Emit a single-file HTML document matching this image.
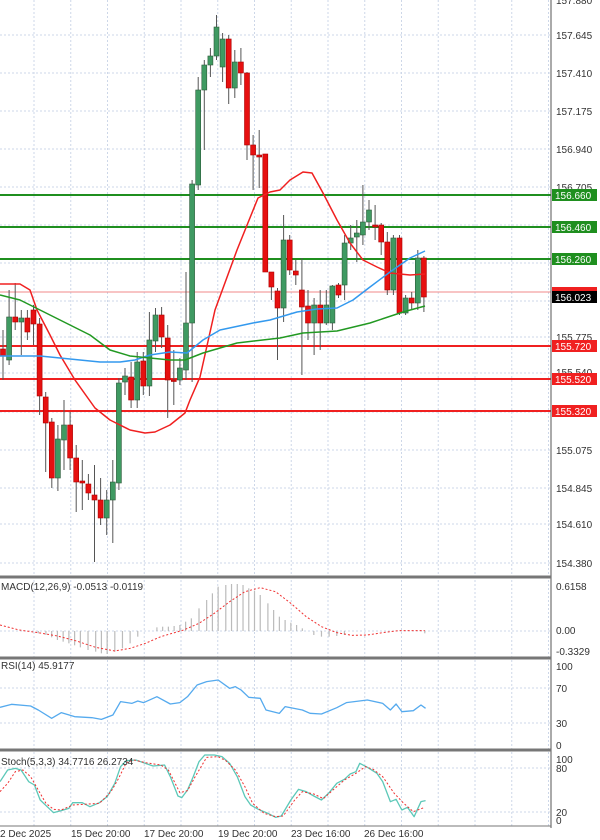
<!DOCTYPE html>
<html><head><meta charset="utf-8"><style>
html,body{margin:0;padding:0;background:#fff;}
svg{display:block;font-family:"Liberation Sans",sans-serif;}
</style></head><body>
<svg id="c" width="600" height="840" viewBox="0 0 600 840" xmlns="http://www.w3.org/2000/svg">
<g id="grid"></g>
<g id="hlines">
<line x1="0" x2="551" y1="292" y2="292" stroke="#f08a8a" stroke-width="1"/>
<line x1="0" x2="551" y1="195" y2="195" stroke="#1f8f1f" stroke-width="2"/>
<line x1="0" x2="551" y1="227" y2="227" stroke="#1f8f1f" stroke-width="2"/>
<line x1="0" x2="551" y1="259" y2="259" stroke="#1f8f1f" stroke-width="2"/>
<line x1="0" x2="551" y1="346" y2="346" stroke="#f02020" stroke-width="2"/>
<line x1="0" x2="551" y1="379" y2="379" stroke="#f02020" stroke-width="2"/>
<line x1="0" x2="551" y1="411" y2="411" stroke="#f02020" stroke-width="2"/>
</g>
<g id="candles"></g>
<g id="mas"></g>
<g id="ind"></g>
<!-- frame -->
<line x1="551" x2="551" y1="0" y2="828" stroke="#555" stroke-width="1"/>
<line x1="0" x2="551" y1="577" y2="577" stroke="#777" stroke-width="3"/>
<line x1="0" x2="551" y1="658" y2="658" stroke="#777" stroke-width="3"/>
<line x1="0" x2="551" y1="750" y2="750" stroke="#777" stroke-width="3"/>
<line x1="0" x2="551" y1="826" y2="826" stroke="#777" stroke-width="1"/>
<!-- price axis labels -->
<g font-size="10" fill="#333">
<text x="556" y="4">157.880</text>
<text x="556" y="39">157.645</text>
<text x="556" y="77">157.410</text>
<text x="556" y="115">157.175</text>
<text x="556" y="153">156.940</text>
<text x="556" y="191">156.705</text>
<text x="556" y="341">155.775</text>
<text x="556" y="376">155.540</text>
<text x="556" y="454">155.075</text>
<text x="556" y="492">154.845</text>
<text x="556" y="528">154.610</text>
<text x="556" y="567">154.380</text>
</g>
<g font-size="10">
<rect x="552" y="189" width="45" height="12" fill="#1f8f1f"/><text x="555" y="199" fill="#fff">156.660</text>
<rect x="552" y="221" width="45" height="12" fill="#1f8f1f"/><text x="555" y="231" fill="#fff">156.460</text>
<rect x="552" y="253" width="45" height="12" fill="#1f8f1f"/><text x="555" y="263" fill="#fff">156.260</text>
<rect x="552" y="287" width="45" height="8" fill="#f02020"/>
<rect x="552" y="291" width="45" height="12" fill="#000"/><text x="555" y="301" fill="#fff">156.023</text>
<rect x="552" y="340" width="45" height="12" fill="#f02020"/><text x="555" y="350" fill="#fff">155.720</text>
<rect x="552" y="373" width="45" height="12" fill="#f02020"/><text x="555" y="383" fill="#fff">155.520</text>
<rect x="552" y="405" width="45" height="12" fill="#f02020"/><text x="555" y="415" fill="#fff">155.320</text>
</g>
<!-- indicator axes -->
<g font-size="10" fill="#333">
<text x="556" y="590">0.6158</text>
<text x="556" y="634">0.00</text>
<text x="556" y="655">-0.3329</text>
<text x="556" y="670">100</text>
<text x="556" y="692">70</text>
<text x="556" y="727">30</text>
<text x="556" y="749">0</text>
<text x="556" y="763">100</text>
<text x="556" y="772">80</text>
<text x="556" y="816">20</text>
<text x="556" y="824">0</text>
<text x="1" y="590">MACD(12,26,9) -0.0513 -0.0119</text>
<text x="1" y="669">RSI(14) 45.9177</text>
<text x="1" y="765">Stoch(5,3,3) 34.7716 26.2734</text>
<text x="0" y="837">2 Dec 2025</text>
<text x="71" y="837">15 Dec 20:00</text>
<text x="144" y="837">17 Dec 20:00</text>
<text x="218" y="837">19 Dec 20:00</text>
<text x="291" y="837">23 Dec 16:00</text>
<text x="364" y="837">26 Dec 16:00</text>
</g>
</svg>
<script>
var NS="http://www.w3.org/2000/svg";
function el(p,t,a){var e=document.createElementNS(NS,t);for(var k in a)e.setAttribute(k,a[k]);document.getElementById(p).appendChild(e);return e;}
// grid
var hy=[-3,35,73,111,149,187,225,263,301,337,373,412,450,488,524,563];
hy.forEach(function(y){el("grid","line",{x1:0,x2:551,y1:y,y2:y,stroke:"#cdd7e8","stroke-dasharray":"2,2"});});
[602,630,640].forEach(function(y){});
el("grid","line",{x1:0,x2:551,y1:631,y2:631,stroke:"#cdd7e8","stroke-dasharray":"2,2"});
[688,723,768,812].forEach(function(y){el("grid","line",{x1:0,x2:551,y1:y,y2:y,stroke:"#cdd7e8","stroke-dasharray":"2,2"});});
for(var x=34;x<551;x+=36.75){el("grid","line",{x1:x,x2:x,y1:0,y2:826,stroke:"#cdd7e8","stroke-dasharray":"2,2"});}
// candles: open, close, high, low (screen y)
var C=[[349,356,330,380],[360,317,290,365],[317,322,283,330],[322,318,310,355],[318,332,310,340],[310,324,305,345],[324,396,318,415],[397,423,392,472],[422,478,418,488],[478,439,425,491],[440,425,400,470],[425,458,412,470],[458,482,445,512],[481,483,460,510],[484,493,474,500],[495,500,465,562],[500,518,478,525],[518,500,490,535],[500,482,460,543],[483,383,378,490],[382,376,368,395],[377,400,362,408],[400,362,352,408],[361,386,352,395],[386,340,312,396],[341,315,308,352],[315,337,307,348],[338,380,325,418],[380,381,350,405],[380,368,358,385],[370,323,272,380],[323,184,180,382],[185,90,77,190],[90,65,60,150],[65,56,48,77],[56,27,15,60],[67,39,33,82],[39,88,35,104],[88,62,50,98],[62,73,48,85],[73,145,72,160],[145,155,135,190],[155,157,130,188],[154,272,154,272],[272,287,272,300],[291,308,288,360],[308,240,215,322],[240,270,235,275],[271,275,260,285],[290,307,258,375],[306,323,290,340],[323,305,298,355],[305,323,290,350],[323,305,290,325],[323,286,285,330],[285,295,283,298],[285,243,235,300],[243,238,225,250],[237,233,220,262],[235,222,185,245],[222,210,200,230],[225,227,205,240],[225,242,223,255],[242,290,232,295],[290,238,235,295],[238,313,235,315],[313,298,295,315],[298,303,292,310],[303,258,250,310],[258,297,256,312]];
C.forEach(function(c,i){var x=3+6.1*i;var up=c[1]<c[0];
el("candles","line",{x1:x,x2:x,y1:c[2],y2:c[3],stroke:"#555","stroke-width":1});
var t=Math.min(c[0],c[1]),h=Math.max(Math.abs(c[0]-c[1]),1.5);
el("candles","rect",{x:x-2.5,y:t,width:5,height:h,fill:up?"#3f9a62":"#e61010",stroke:up?"#2d5a3a":"#a00",  "stroke-width":0.6});});
function pl(g,pts,col,w,dash){var s=pts.map(function(p){return p[0]+","+p[1]}).join(" ");var a={points:s,fill:"none",stroke:col,"stroke-width":w,"stroke-linejoin":"round"};if(dash)a["stroke-dasharray"]=dash;el(g,"polyline",a);}
pl("mas",[[0,284],[20,284],[30,290],[37,310],[50,335],[60,355],[75,380],[95,408],[110,420],[130,430],[145,433],[155,432],[170,425],[185,413],[190,400],[200,377],[215,310],[237,250],[258,198],[270,192],[280,190],[290,180],[303,172],[312,173],[323,193],[337,220],[350,243],[363,260],[377,267],[390,273],[410,275],[425,274]],"#f02020",1.5);
pl("mas",[[0,356],[20,356],[40,356],[60,358],[80,360],[100,362],[120,362],[135,360],[150,355],[170,352],[187,353],[203,340],[220,330],[253,323],[270,320],[297,312],[317,309],[337,308],[353,300],[370,287],[390,272],[410,258],[425,251]],"#3399ee",1.5);
pl("mas",[[0,295],[20,300],[40,310],[60,320],[70,325],[90,335],[110,350],[130,356],[150,358],[170,360],[185,360],[203,353],[237,343],[280,338],[303,333],[337,331],[370,323],[403,312],[425,306]],"#229922",1.5);
// MACD histogram
var H=[[100,190],[120,195],[135,202],[150,210],[165,215],[180,220],[195,226],[210,232],[230,240],[250,245],[265,250],[280,252],[300,245],[320,235],[340,220],[360,200],[410,172],[425,170],[440,170],[455,168],[470,165],[485,155],[500,145],[520,115],[540,90],[555,70],[570,50],[590,45],[605,42],[620,42],[635,45],[650,55],[665,62],[680,75],[700,100],[715,120],[730,140],[745,150],[760,158],[775,165],[790,175],[820,195],[840,200],[860,200],[880,198],[900,195],[1110,190]];
H.forEach(function(h){var x=h[0]/2.613,y=570+h[1]/3;el("ind","line",{x1:x,x2:x,y1:631,y2:y,stroke:"#bbb","stroke-width":1.2});});
function cv(a){return a.map(function(p){return [p[0]/2.613,570+p[1]/3];});}
pl("ind",cv([[0,165],[50,180],[100,188],[150,198],[200,213],[250,232],[300,243],[340,235],[380,220],[420,200],[480,180],[520,160],[560,130],[600,95],[640,65],[680,53],[720,65],[760,100],[800,140],[840,170],[880,188],[920,196],[960,195],[1000,188],[1040,182],[1110,182]]),"#f03030",1,"2,2");
pl("ind",cv([[0,412],[30,403],[80,408],[100,420],[135,445],[160,428],[195,440],[240,443],[265,448],[295,435],[315,395],[345,400],[360,393],[375,398],[410,380],[445,402],[470,398],[490,380],[515,345],[540,335],[570,330],[600,355],[615,350],[630,360],[650,382],[680,385],[695,420],[730,430],[745,410],[790,420],[810,430],[840,432],[880,413],[905,398],[960,390],[1000,400],[1020,420],[1035,402],[1050,425],[1080,422],[1100,405],[1112,415]]),"#55aaee",1.3);
pl("ind",cv([[0,635],[20,600],[40,595],[55,600],[75,635],[90,645],[105,690],[125,712],[140,728],[160,722],[180,715],[190,698],[215,698],[235,710],[260,698],[280,680],[300,640],[315,590],[330,572],[355,570],[380,580],[400,588],[430,585],[445,620],[465,678],[475,683],[490,660],[505,620],[520,575],[535,555],[560,555],[580,560],[600,580],[620,620],[640,680],[655,705],[675,718],[700,730],[720,742],[735,738],[760,690],[780,658],[800,665],[820,678],[840,690],[860,668],[880,640],[900,628],[915,612],[930,605],[940,580],[960,592],[985,610],[1000,635],[1020,695],[1035,688],[1050,720],[1065,712],[1082,740],[1100,695],[1112,692]]),"#5cc8b8",1.3);
pl("ind",cv([[0,665],[20,640],[40,605],[60,600],[80,620],[100,660],[120,700],[140,718],[160,720],[190,705],[230,702],[260,700],[290,665],[310,625],[330,578],[350,570],[380,578],[420,585],[440,600],[470,668],[490,662],[510,620],[540,562],[570,560],[590,572],[615,600],[640,650],[660,700],[690,730],[720,740],[740,738],[770,690],[790,665],[820,672],[845,686],[870,660],[900,630],[930,610],[955,590],[975,598],[1000,620],[1030,670],[1055,700],[1080,725],[1110,712]]),"#f03030",1,"2,2");
</script>
</body></html>
